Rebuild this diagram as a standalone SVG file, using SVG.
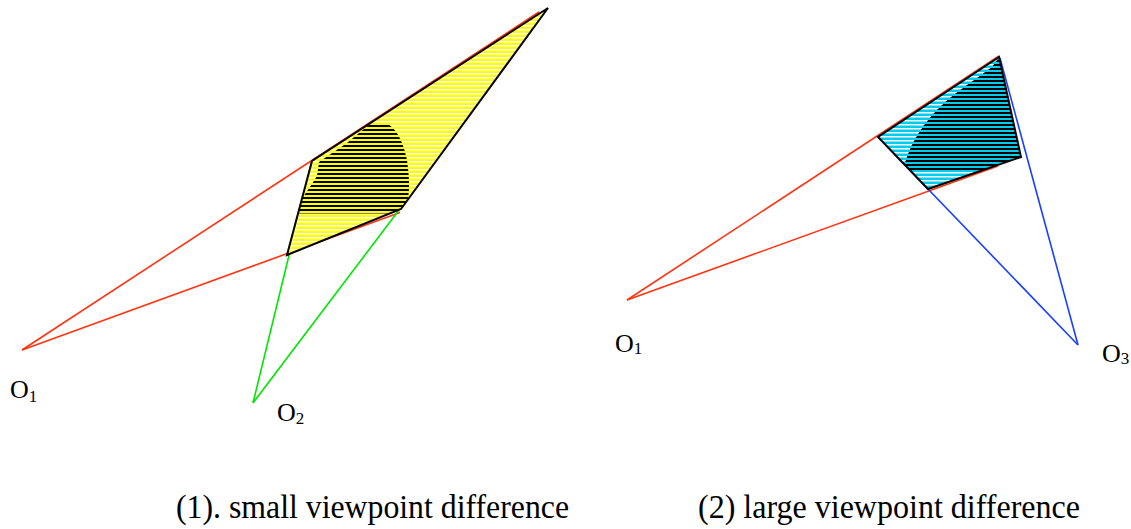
<svg xmlns="http://www.w3.org/2000/svg" width="1131" height="529" viewBox="0 0 1131 529">
<style>
.lbl{font-family:"Liberation Serif","Times New Roman",serif;font-size:26px;fill:#000}
.sub{font-size:17px}
.cap{font-family:"Liberation Serif","Times New Roman",serif;font-size:33px;fill:#000}
.red{stroke:#ff3311;stroke-width:1.6;fill:none}
.grn{stroke:#00e600;stroke-width:1.6;fill:none}
.blu{stroke:#1a40ff;stroke-width:1.6;fill:none}
.edge{fill:none;stroke:#000;stroke-width:2;stroke-linejoin:miter}
.hl{shape-rendering:crispEdges}
</style>
<defs>
<pattern id="hwL" patternUnits="userSpaceOnUse" x="0" y="1" width="10" height="4"><rect width="10" height="1.5" fill="#fff"/></pattern>
<pattern id="hbL" patternUnits="userSpaceOnUse" x="0" y="1" width="10" height="4"><rect class="hl" width="10" height="2" fill="#000"/></pattern>
<pattern id="hwR" patternUnits="userSpaceOnUse" x="0" y="0" width="10" height="4"><rect width="10" height="1.5" fill="#fff"/></pattern>
<pattern id="hbR" patternUnits="userSpaceOnUse" x="0" y="0" width="10" height="4"><rect class="hl" width="10" height="2" fill="#000"/></pattern>
<clipPath id="cpL"><polygon points="548,8 312,161 287,255 401,209"/></clipPath>
<clipPath id="cpLb"><path d="M370,124 L388,124 C398,130 404,145 407,160 C409,175 410,188 408,198 L404,213.5 L296,213.5 L303,197 L310,187 L317,176 L319,162 L347,143 Z"/></clipPath>
<clipPath id="cpR"><polygon points="999,57 878,137 928,189 1021,157"/></clipPath>
<clipPath id="cpRb"><path d="M1000,56 L992,67 C975,80 955,92 940,107 C925,122 911,140 903,170 L1030,170 L1030,56 Z"/></clipPath>
</defs>

<g id="connectors">
<line class="red" x1="22" y1="350" x2="539" y2="12"/>
<line class="red" x1="22" y1="350" x2="400" y2="212.5"/>
<line class="grn" x1="253" y1="403" x2="312" y2="161"/>
<line class="grn" x1="253" y1="403" x2="399" y2="210"/>
<line class="red" x1="627" y1="300" x2="999" y2="56"/>
<line class="red" x1="627" y1="300" x2="998" y2="166"/>
<line class="blu" x1="1078" y1="345" x2="878" y2="137"/>
<line class="blu" x1="1078" y1="345" x2="1000" y2="58"/>
</g>

<g id="region-small">
<polygon points="548,8 312,161 287,255 401,209" fill="#ffff00"/>
<g clip-path="url(#cpL)">
<rect x="280" y="0" width="280" height="260" fill="url(#hwL)"/>
<g clip-path="url(#cpLb)"><rect x="280" y="100" width="140" height="120" fill="url(#hbL)"/></g>
</g>
<polygon class="edge" points="548,8 312,161 287,255 401,209"/>
</g>

<g id="region-large">
<polygon points="999,57 878,137 928,189 1021,157" fill="#00ccee"/>
<g clip-path="url(#cpR)">
<rect x="870" y="50" width="160" height="145" fill="url(#hwR)"/>
<g clip-path="url(#cpRb)"><rect x="870" y="50" width="160" height="145" fill="url(#hbR)"/></g>
</g>
<polygon class="edge" points="999,57 878,137 928,189 1021,157"/>
</g>

<g id="label-O1-left"><text class="lbl" x="10" y="398">O<tspan class="sub" dy="4">1</tspan></text></g>
<g id="label-O2"><text class="lbl" x="277" y="421">O<tspan class="sub" dy="2.5">2</tspan></text></g>
<g id="label-O1-right"><text class="lbl" x="615" y="352">O<tspan class="sub" dy="2">1</tspan></text></g>
<g id="label-O3"><text class="lbl" x="1102" y="362">O<tspan class="sub" dy="1.5">3</tspan></text></g>

<g id="caption-1"><text class="cap" x="176" y="518" textLength="393" lengthAdjust="spacingAndGlyphs">(1). small viewpoint difference</text></g>
<g id="caption-2"><text class="cap" x="698" y="518" textLength="382" lengthAdjust="spacingAndGlyphs">(2) large viewpoint difference</text></g>
</svg>
